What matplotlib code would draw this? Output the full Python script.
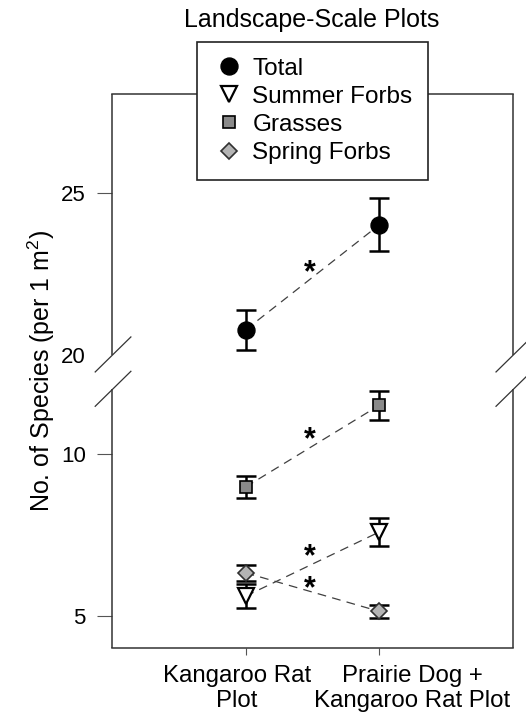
import numpy as np
import matplotlib
matplotlib.use('Agg')
import matplotlib.pyplot as plt
from matplotlib.transforms import ScaledTranslation

plt.rcParams['font.family'] = ['Liberation Sans', 'DejaVu Sans']
plt.rcParams['mathtext.default'] = 'regular'

# data (mean +/- SE)
groups = ['Kangaroo Rat\nPlot', 'Prairie Dog +\nKangaroo Rat Plot']
group_x = [1, 2]

total_mean = [20.77, 24.01]
total_err = [0.62, 0.82]
summer_mean = [5.60, 7.58]
summer_err = [0.37, 0.43]
grass_mean = [8.97, 11.49]
grass_err = [0.33, 0.45]
spring_mean = [6.32, 5.13]
spring_err = [0.24, 0.20]

# asterisks between the two plots
star_y = [22.82, 10.71, 7.10, 6.10]

ytick_vals = [5, 10, 20, 25]

# broken axis: values above 12 are pulled down so 20 sits just above 12
LOWER_TOP = 12
SHIFT = 6.95


def squash(v):
    v = np.asarray(v, dtype=float)
    return np.where(v > LOWER_TOP, v - SHIFT, v)


fig = plt.figure(figsize=(5.26, 7.13), dpi=100)
ax = fig.add_axes([0.213, 0.0912, 0.762, 0.777])

frame_col = '#333333'
line_col = '#404040'

series = [
    ('Total', total_mean, total_err, dict(marker='o', ms=12.2, mfc='black', mec='black')),
    ('Summer Forbs', summer_mean, summer_err, dict(marker='v', ms=11.5, mfc='white', mec='black', mew=1.6)),
    ('Grasses', grass_mean, grass_err, dict(marker='s', ms=8.9, mfc='#8a8a8a', mec='black', mew=1.2)),
    ('Spring Forbs', spring_mean, spring_err, dict(marker='D', ms=8.1, mfc='#b4b4b4', mec='#303030', mew=1.2)),
]

handles = []
for name, mean, err, mk in series:
    y = squash(mean)
    ax.plot(group_x, y, ls=(0, (7, 5)), color=line_col, lw=0.9, zorder=1)
    ax.errorbar(group_x, y, yerr=err, fmt='none', ecolor='black',
                elinewidth=1.8, capsize=7.2, capthick=1.8, zorder=2)
    h, = ax.plot(group_x, y, ls='none', zorder=3, label=name, **mk)
    handles.append(h)

for sy in star_y:
    ax.annotate('*', xy=(1.48, float(squash(sy))), xytext=(0, -12.5),
                textcoords='offset points', ha='center', va='baseline',
                fontsize=22, fontweight='bold')

ax.set_xlim(0, 3)
ax.set_ylim(4.0, 21.1)

ax.set_xticks(group_x)
ax.set_xticklabels(groups)
ax.set_yticks(squash(ytick_vals))
ax.set_yticklabels([str(v) for v in ytick_vals])
for tick, val in zip(ax.yaxis.get_major_ticks(), ytick_vals):
    if val == 20:
        tick.tick1line.set_visible(False)

ax.tick_params(axis='y', length=10.8, width=0.8, color='#555555', pad=8,
               labelsize=16)
ax.tick_params(axis='x', length=5, width=0.8, color='#555555', pad=7,
               labelsize=17.3)

label_shift = [-6.5, 23.8]  # points
for lab, dx in zip(ax.get_xticklabels(), label_shift):
    lab.set_linespacing(1.2)
    lab.set_transform(lab.get_transform() +
                      ScaledTranslation(dx / 72, 0, fig.dpi_scale_trans))

# frame with gaps at the break
for side in ['left', 'right']:
    ax.spines[side].set_visible(False)
for side in ['top', 'bottom']:
    ax.spines[side].set_color(frame_col)
    ax.spines[side].set_linewidth(1.1)

gap_low = 11.99
gap_high = 13.05
ytr = ax.get_yaxis_transform()
for xs in [0, 1]:
    ax.plot([xs, xs], [4.0, gap_low], transform=ytr, color=frame_col,
            lw=1.1, clip_on=False, solid_capstyle='butt')
    ax.plot([xs, xs], [gap_high, 21.1], transform=ytr, color=frame_col,
            lw=1.1, clip_on=False, solid_capstyle='butt')
    for yc in [gap_low, gap_high]:
        ax.plot([xs - 0.042, xs + 0.047], [yc - 0.53, yc + 0.55],
                transform=ytr, color=frame_col, lw=0.9, clip_on=False)

ax.set_ylabel('No. of Species (per 1 m$^{2}$)', fontsize=18)
ax.yaxis.set_label_coords(-0.137, 0.5)

fig.text(312 / 526, 1 - 20 / 713, 'Landscape-Scale Plots', ha='center',
         va='center', fontsize=18)

leg = fig.legend(handles=handles, loc='upper center',
                 bbox_to_anchor=(312.5 / 526, 1 - 42 / 713), borderaxespad=0,
                 fancybox=False, edgecolor='#222222', framealpha=1,
                 fontsize=17.5, handletextpad=0.25, labelspacing=0.25,
                 borderpad=0.65, handlelength=1.4)
leg.get_frame().set_linewidth(1.2)

fig.savefig('out.png', dpi=100)
